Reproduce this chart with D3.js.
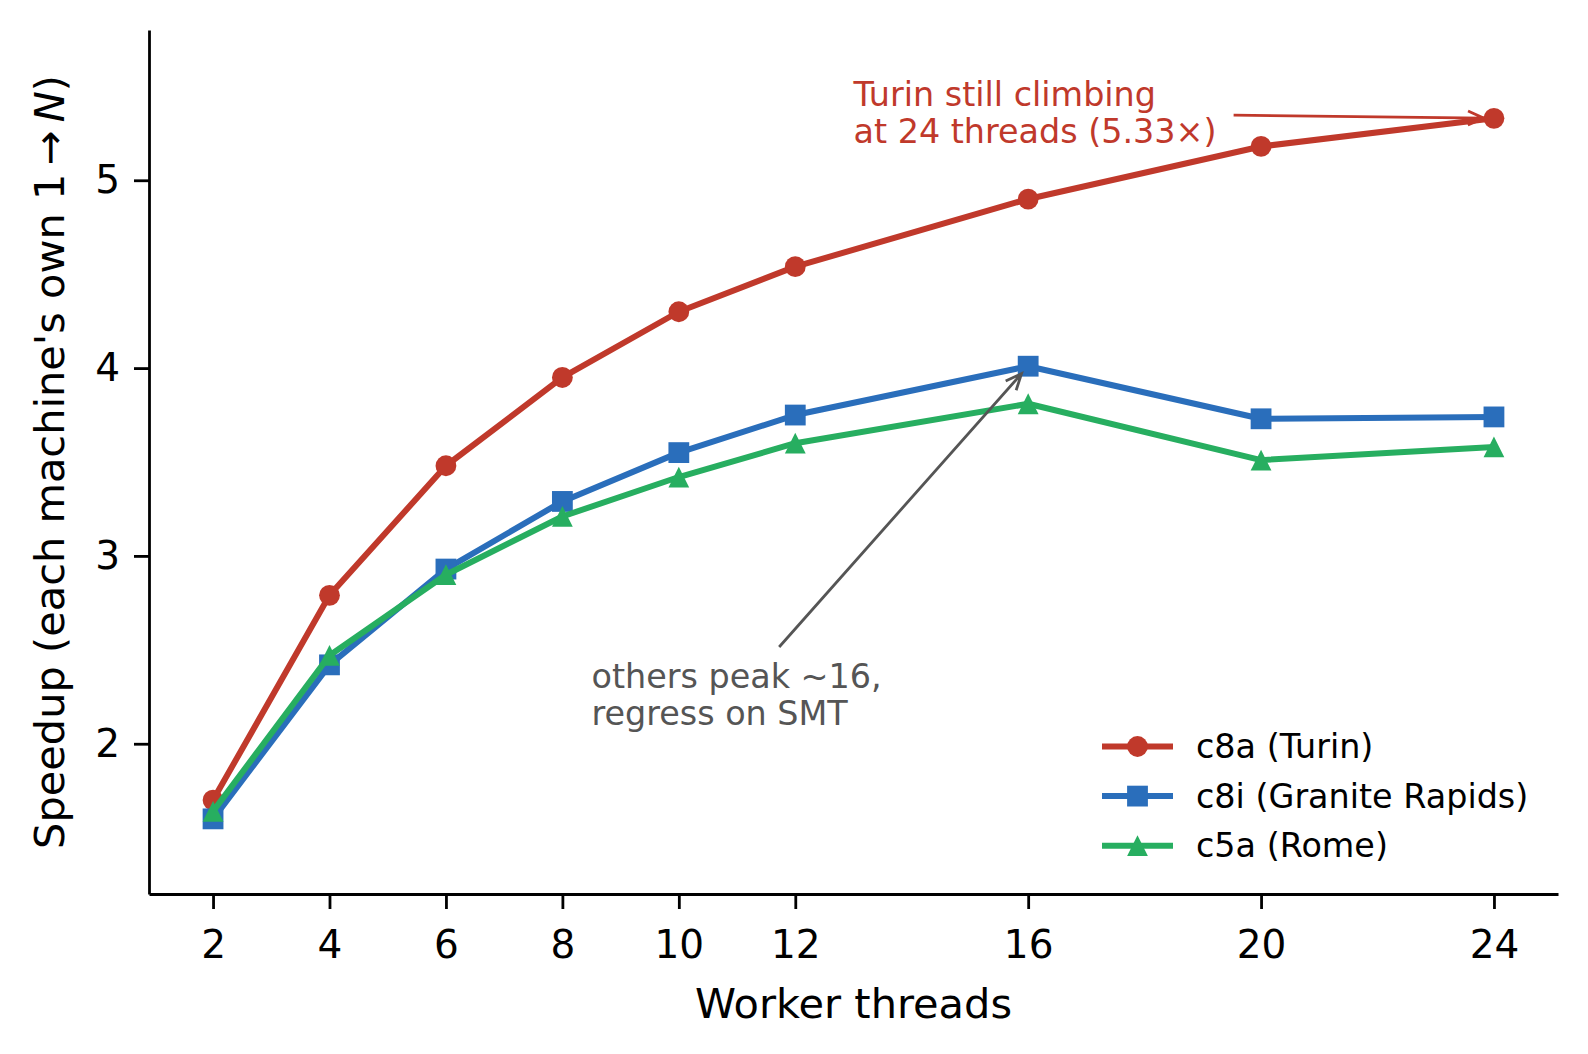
<!DOCTYPE html>
<html>
<head>
<meta charset="utf-8">
<script src="https://cdn.jsdelivr.net/npm/d3@7"></script>
<style>
  body { margin: 0; background: #fff; }
  svg { font-family: "DejaVu Sans", sans-serif; }
</style>
</head>
<body>
<div id="chart"></div>
<script>
// data
const threads = [2, 4, 6, 8, 10, 12, 16, 20, 24];
const turin   = [1.70, 2.79, 3.48, 3.95, 4.30, 4.54, 4.90, 5.18, 5.33];
const granite = [1.60, 2.42, 2.93, 3.29, 3.55, 3.75, 4.01, 3.73, 3.74];
const rome    = [1.64, 2.47, 2.90, 3.21, 3.42, 3.60, 3.81, 3.51, 3.58];
const yTicks  = [2, 3, 4, 5];

const seriesNames  = ['c8a (Turin)', 'c8i (Granite Rapids)', 'c5a (Rome)'];
const seriesColors = ['#c0392b', '#2a6ebb', '#27ae60'];
const seriesMarks  = ['circle', 'square', 'triangle'];
const seriesVals   = [turin, granite, rome];

const W = 1588, H = 1054;
const margin = {top: 30, right: 30, bottom: 160, left: 149};

const svg = d3.select('#chart').append('svg')
    .attr('width', W)
    .attr('height', H);

const x = d3.scaleLinear().domain([0.9, 25.1]).range([margin.left, W - margin.right]);
const y = d3.scaleLinear().domain([1.2, 5.8]).range([H - margin.bottom, margin.top]);

// axes
const xAxis = d3.axisBottom(x).tickValues(threads).tickFormat(d3.format('d'))
    .tickSize(15).tickSizeOuter(0).tickPadding(14);
const yAxis = d3.axisLeft(y).tickValues(yTicks).tickFormat(d3.format('d'))
    .tickSize(15).tickSizeOuter(0).tickPadding(14);

const gx = svg.append('g')
    .attr('transform', `translate(0,${H - margin.bottom})`)
    .call(xAxis);
const gy = svg.append('g')
    .attr('transform', `translate(${margin.left},0)`)
    .call(yAxis);

[gx, gy].forEach(g => {
    g.select('.domain').attr('stroke', '#000').attr('stroke-width', 2.8);
    g.selectAll('.tick line').attr('stroke', '#000').attr('stroke-width', 2.8);
    g.selectAll('.tick text')
        .attr('font-family', 'DejaVu Sans')
        .attr('font-size', 39)
        .attr('fill', '#000');
});
gx.selectAll('.tick text').attr('dy', '0.9em');

svg.append('text')
    .attr('x', (x.range()[0] + x.range()[1]) / 2)
    .attr('y', 1018)
    .attr('text-anchor', 'middle')
    .attr('font-size', 41.5)
    .text('Worker threads');

const yl = svg.append('text')
    .attr('transform', `translate(64,${(y.range()[0] + y.range()[1]) / 2}) rotate(-90)`)
    .attr('text-anchor', 'middle')
    .attr('font-size', 41.5);
yl.append('tspan').text('Speedup (each machine\'s own 1\u2009\u2192\u2009');
yl.append('tspan').attr('font-style', 'italic').text('N');
yl.append('tspan').text(')');

// markers
const R = 10.4;
function marker(g, kind, cx, cy, color) {
    if (kind === 'circle') {
        g.append('circle').attr('cx', cx).attr('cy', cy).attr('r', R).attr('fill', color);
    } else if (kind === 'square') {
        g.append('rect').attr('x', cx - R).attr('y', cy - R)
            .attr('width', 2 * R).attr('height', 2 * R).attr('fill', color);
    } else {
        g.append('path')
            .attr('d', `M${cx},${cy - R}L${cx - R},${cy + R}L${cx + R},${cy + R}Z`)
            .attr('fill', color);
    }
}

const line = d3.line().x(d => x(d[0])).y(d => y(d[1]));

seriesVals.forEach((vals, i) => {
    const pts = threads.map((t, j) => [t, vals[j]]);
    const g = svg.append('g');
    g.append('path')
        .attr('d', line(pts))
        .attr('fill', 'none')
        .attr('stroke', seriesColors[i])
        .attr('stroke-width', 6)
        .attr('stroke-linejoin', 'round');
    pts.forEach(p => marker(g, seriesMarks[i], x(p[0]), y(p[1]), seriesColors[i]));
});

// annotations
function annotate(lines, tx, ty, px, py, color) {
    const t = svg.append('text')
        .attr('font-size', 33.4)
        .attr('fill', color);
    lines.forEach((s, k) => {
        t.append('tspan')
            .attr('x', x(tx))
            .attr('y', y(ty) - (lines.length - 1 - k) * 37)
            .text(s);
    });
    const bb = t.node().getBBox();
    const padX = 17, padY = 10;
    const bx0 = bb.x - padX, bx1 = bb.x + bb.width + padX;
    const by0 = bb.y - padY, by1 = bb.y + bb.height + padY;
    const cx = bb.x + bb.width / 2, cy = bb.y + bb.height / 2;
    const ex = x(px), ey = y(py);
    const dx = ex - cx, dy = ey - cy;
    // leave the text box along the center->target line
    const tsx = dx !== 0 ? Math.max((dx > 0 ? bx1 - cx : bx0 - cx) / dx, 0) : Infinity;
    const tsy = dy !== 0 ? Math.max((dy > 0 ? by1 - cy : by0 - cy) / dy, 0) : Infinity;
    const ts = Math.min(tsx, tsy);
    const sx = cx + dx * ts, sy = cy + dy * ts;
    const len = Math.hypot(ex - sx, ey - sy);
    const ux = (ex - sx) / len, uy = (ey - sy) / len;
    const shrink = 10;
    const tipx = ex - ux * shrink, tipy = ey - uy * shrink;
    const hl = 16, hw = 7;
    const h1x = tipx - ux * hl - uy * hw, h1y = tipy - uy * hl + ux * hw;
    const h2x = tipx - ux * hl + uy * hw, h2y = tipy - uy * hl - ux * hw;
    svg.append('path')
        .attr('d', `M${sx},${sy}L${tipx},${tipy}M${h1x},${h1y}L${tipx},${tipy}L${h2x},${h2y}`)
        .attr('fill', 'none')
        .attr('stroke', color)
        .attr('stroke-width', 2.8)
        .attr('stroke-linejoin', 'miter');
}

annotate(['Turin still climbing', 'at 24 threads (5.33\u00d7)'], 13, 5.2, 24, 5.33, '#c0392b');
annotate(['others peak ~16,', 'regress on SMT'], 8.5, 2.1, 16, 4.01, '#555555');

// legend
const lg = svg.append('g');
seriesNames.forEach((name, i) => {
    const ly = 746.5 + i * 49.6;
    lg.append('line')
        .attr('x1', 1102).attr('x2', 1173)
        .attr('y1', ly).attr('y2', ly)
        .attr('stroke', seriesColors[i])
        .attr('stroke-width', 6);
    marker(lg, seriesMarks[i], 1137.5, ly, seriesColors[i]);
    lg.append('text')
        .attr('x', 1196)
        .attr('y', ly)
        .attr('dy', '0.35em')
        .attr('font-size', 33.4)
        .text(name);
});
</script>
</body>
</html>
